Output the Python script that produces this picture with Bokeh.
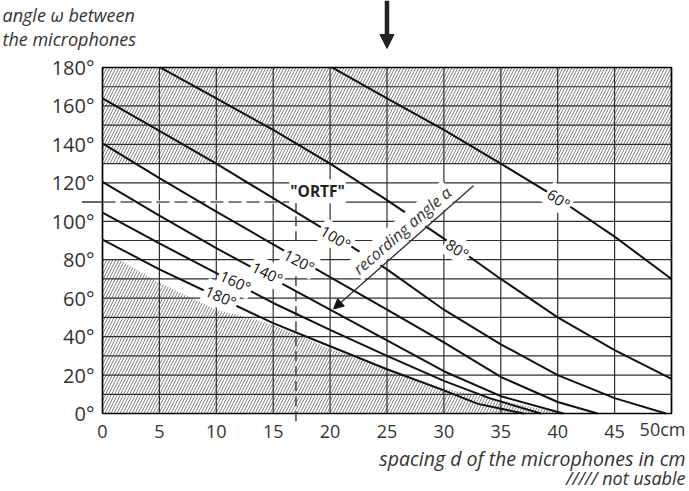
from bokeh.plotting import figure
from bokeh.models import Range1d, FixedTicker, Label, Arrow, NormalHead, LinearAxis
from bokeh.embed import file_html
from bokeh.resources import INLINE

# ---------------- data ----------------
spacing_ticks = [0, 5, 10, 15, 20, 25, 30, 35, 40, 45, 50]
spacing_tick_labels = ["0", "5", "10", "15", "20", "25", "30", "35", "40", "45", "50cm"]
angle_ticks = [0, 20, 40, 60, 80, 100, 120, 140, 160, 180]
angle_tick_labels = ["0°", "20°", "40°", "60°", "80°", "100°", "120°", "140°", "160°", "180°"]
grid_spacing = [0, 5, 10, 15, 20, 25, 30, 35, 40, 45, 50]
grid_angle = [0, 10, 20, 30, 40, 50, 60, 70, 80, 90, 100, 110, 120, 130, 140, 150, 160, 170, 180]

# recording-angle curves: spacing d (cm) -> angle omega (deg)
rec_180_x = [0, 5, 10, 15, 20, 25, 30, 33, 37]
rec_180_y = [90.5, 75, 61, 47, 35, 23, 12, 5, 0]
rec_160_x = [0, 5, 10, 15, 20, 25, 30, 34, 38.5]
rec_160_y = [104.5, 88.5, 73, 57.5, 43.5, 30, 17, 8, 0]
rec_140_x = [0, 5, 10, 15, 20, 25, 30, 35, 40.5]
rec_140_y = [120.5, 103, 86, 70, 54, 38, 22, 9, 0]
rec_120_x = [0, 5, 10, 15, 20, 25, 30, 35, 40, 43.5]
rec_120_y = [140.5, 122.5, 105, 88, 71, 54, 37, 19, 6, 0]
rec_100_x = [0, 5, 10, 15, 20, 25, 30, 35, 40, 45, 49.5]
rec_100_y = [164, 147, 130, 112, 94, 75, 54, 36, 20, 8, 0]
rec_80_x = [5.1, 10, 15, 20, 25, 30, 35, 40, 45, 50]
rec_80_y = [180, 164, 147.5, 130, 111, 91, 70, 50, 33, 18]
rec_60_x = [20.2, 25, 30, 35, 40, 45, 50]
rec_60_y = [180, 164, 147.5, 130, 112, 92, 70]

curve_names = ["180°", "160°", "140°", "120°", "100°", "80°", "60°"]
curve_label_x = [10.4, 11.7, 14.5, 17.3, 20.5, 31.2, 40.1]
curve_label_y = [61, 68.8, 73.1, 79.5, 91.6, 85.6, 111.6]
curve_label_angle = [-24, -25, -26, -28, -31, -33, -34]

# "not usable" zones
unusable_top = [130, 180]
unusable_low_x = [0, 1.5, 5, 10, 14, 17, 20, 25, 30, 35, 38, 41]
unusable_low_y = [80, 80, 68, 54, 48, 41.5, 33.5, 23.5, 13, 7, 3, 0]

# ORTF point
ortf_spacing = 17
ortf_angle = 110

# ---------------- figure ----------------
FONT = "Open Sans"
TXT = "#333333"
X0, X1 = spacing_ticks[0], spacing_ticks[-1]
Y0, Y1 = angle_ticks[0], angle_ticks[-1]

# the plotting frame fills the whole canvas; the chart box (0..50 cm, 0..180 deg)
# sits inside it, leaving room for tick labels, titles and the sound arrow
p = figure(width=689, height=491, output_backend="svg", toolbar_location=None,
           x_range=Range1d(-8.963, 51.582), y_range=Range1d(-40.58, 214.86),
           x_axis_location=None, y_axis_location=None,
           min_border_left=0, min_border_right=0, min_border_top=0, min_border_bottom=0)
p.background_fill_color = "white"
p.border_fill_color = "white"
p.outline_line_color = None
p.xgrid.visible = False
p.ygrid.visible = False

yax = LinearAxis(fixed_location=X0, ticker=FixedTicker(ticks=angle_ticks),
                 major_label_overrides=dict(zip(angle_ticks, angle_tick_labels)))
ov = dict(zip(spacing_ticks, spacing_tick_labels))
ov[X1] = ""
xax = LinearAxis(fixed_location=Y0, ticker=FixedTicker(ticks=spacing_ticks),
                 major_label_overrides=ov)
for ax in (xax, yax):
    ax.axis_line_color = None
    ax.major_tick_line_color = None
    ax.minor_tick_line_color = None
    ax.major_label_text_font = FONT
    ax.major_label_text_color = TXT
xax.major_label_text_font_size = "18px"
yax.major_label_text_font_size = "20px"
xax.major_label_standoff = 6
yax.major_label_standoff = 2
p.add_layout(yax, "left")
p.add_layout(xax, "below")

# hatched zones
HATCH = dict(hatch_pattern="/", hatch_color="#6a6a6a", hatch_scale=6, hatch_weight=0.85)
p.quad(left=[X0], right=[X1], bottom=[unusable_top[0]], top=[unusable_top[1]],
       fill_color=None, line_color=None, **HATCH)
p.varea(x=unusable_low_x, y1=0, y2=unusable_low_y, fill_color=None, **HATCH)

# grid
p.segment(x0=grid_spacing, y0=[Y0] * len(grid_spacing), x1=grid_spacing, y1=[Y1] * len(grid_spacing),
          line_color="#2e2e2e", line_width=1.2)
p.segment(x0=[X0] * len(grid_angle), y0=grid_angle, x1=[X1] * len(grid_angle), y1=grid_angle,
          line_color="#2e2e2e", line_width=1.2)

# ORTF dashed guide lines
p.line([X0, ortf_spacing], [ortf_angle, ortf_angle], line_color="white", line_width=3)
p.line([X0, ortf_spacing], [ortf_angle, ortf_angle], line_color="#555555",
       line_width=1.6, line_dash="13 5")
p.line([ortf_spacing, ortf_spacing], [-4, ortf_angle], line_color="#444444",
       line_width=1.5, line_dash="10 5")
p.line([-1.8, X0], [ortf_angle, ortf_angle], line_color="#333333", line_width=1.5)

# curves
curves = [(rec_180_x, rec_180_y), (rec_160_x, rec_160_y), (rec_140_x, rec_140_y),
          (rec_120_x, rec_120_y), (rec_100_x, rec_100_y), (rec_80_x, rec_80_y),
          (rec_60_x, rec_60_y)]
for cx, cy in curves:
    p.line(cx, cy, line_color="#111111", line_width=2)

# chart frame
p.line([X0, X1, X1, X0, X0], [Y0, Y0, Y1, Y1, Y0], line_color="black", line_width=1.6)

# ---- annotations (texts first, arrows with heads last) ----
p.add_layout(Label(x=26.33, y=95.2, text="recording angle α", angle=41, angle_units="deg",
                   text_align="center", text_baseline="middle", text_font=FONT,
                   text_font_style="italic", text_font_size="16px", text_color=TXT,
                   background_fill_color="white", padding=1))

for name, lx, ly, la in zip(curve_names, curve_label_x, curve_label_y, curve_label_angle):
    p.add_layout(Label(x=lx, y=ly, text=name, angle=la, angle_units="deg",
                       text_align="center", text_baseline="middle", text_font=FONT,
                       text_font_size="15px", text_color="#111111",
                       background_fill_color="white", padding=2))

p.add_layout(Label(x=18.9, y=115.6, text='"ORTF"', text_align="center", text_baseline="middle",
                   text_font=FONT, text_font_style="bold", text_font_size="15.5px",
                   text_color="#222222", background_fill_color="white", padding=1))

p.add_layout(Label(x=51.23, y=-8.3, text=spacing_tick_labels[-1],
                   text_align="right", text_baseline="middle", text_font=FONT,
                   text_font_size="18px", text_color=TXT))
p.add_layout(Label(x=-8.79, y=207.1, text="angle ω between", text_align="left",
                   text_baseline="middle", text_font=FONT, text_font_style="italic",
                   text_font_size="18px", text_color=TXT))
p.add_layout(Label(x=-8.79, y=194.6, text="the microphones", text_align="left",
                   text_baseline="middle", text_font=FONT, text_font_style="italic",
                   text_font_size="18px", text_color=TXT))
p.add_layout(Label(x=51.23, y=-23.2, text="spacing d of the microphones in cm",
                   text_align="right", text_baseline="middle", text_font=FONT,
                   text_font_style="italic", text_font_size="19.5px", text_color=TXT))
p.add_layout(Label(x=51.23, y=-33.4, text="///// not usable", text_align="right",
                   text_baseline="middle", text_font=FONT, text_font_style="italic",
                   text_font_size="18px", text_color=TXT))

# recording angle arrow
p.add_layout(Arrow(x_start=32.6, y_start=118.5, x_end=20.3, y_end=54.4,
                   line_color="#333333", line_width=1.4,
                   end=NormalHead(size=10, fill_color="#111111", line_color="#111111")))
# sound-direction arrow at the top
p.add_layout(Arrow(x_start=25, y_start=214.86, x_end=25, y_end=189.9, line_color="#222222",
                   line_width=4.5,
                   end=NormalHead(size=14, fill_color="#222222", line_color="#222222")))

open("out.html", "w").write(file_html(p, INLINE))
